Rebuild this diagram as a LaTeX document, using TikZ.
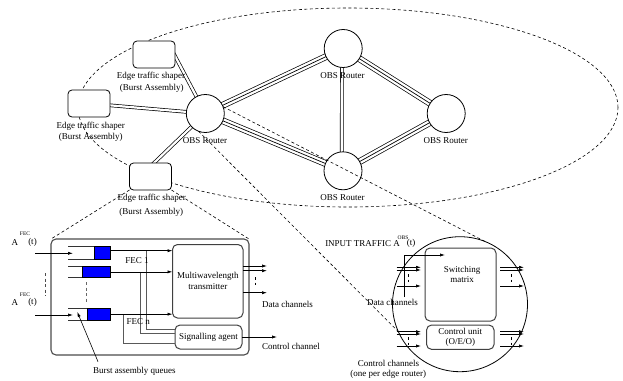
\documentclass[tikz,border=0pt]{standalone}
\usepackage{fontspec}
\setmainfont{Liberation Serif}
\usetikzlibrary{arrows.meta,backgrounds}
\begin{document}
\begin{tikzpicture}[x=1pt,y=-1pt,
  txt/.style={font=\fontsize{9}{10}\selectfont, inner sep=0pt, outer sep=0pt, align=center},
  tiny/.style={font=\fontsize{5.5}{6}\selectfont, inner sep=0pt},
  router/.style={circle, draw, fill=white, minimum size=38pt, inner sep=0pt, outer sep=0pt, line width=.8pt},
  shaper/.style={draw, fill=white, rounded corners=4pt, minimum width=42pt, minimum height=27pt, inner sep=0pt, outer sep=0pt, line width=.8pt},
  dbl/.style={double, double distance=2.2pt, line width=.7pt},
  tri/.style={line width=.7pt, preaction={draw, line width=6.7pt}, preaction={draw, white, line width=5.3pt}},
  dsh/.style={line width=.6pt, dash pattern=on 3pt off 2.5pt},
  unit/.style={draw=black!75, line width=1pt, rounded corners=5pt, inner sep=0pt, outer sep=0pt, fill=white},
  arr/.style={-{Latex[length=5pt,width=3.2pt]}, line width=.7pt},
  route/.style={draw=black!65, line width=.8pt},
  qline/.style={draw=black!80, line width=.8pt},
  blueq/.style={fill=blue, draw=black, line width=.6pt, inner sep=0pt, outer sep=0pt},
]
\useasboundingbox (0,0) rectangle (623,380);

% ---------- network ----------
\node[router] (R1) at (205.3,113.5) {};
\node[router] (R2) at (343.2,48.5) {};
\node[router] (R3) at (446.2,113.5) {};
\node[router] (R4) at (343,170.8) {};
\node[txt] (R1l) at (205,140.7) {OBS Router};
\node[txt] (R2l) at (342.5,76) {OBS Router};
\node[txt] (R3l) at (445.8,140.7) {OBS Router};
\node[txt] (R4l) at (342.5,197.3) {OBS Router};

\node[shaper] (E1) at (154,54.5) {};
\node[shaper] (E2) at (89,103.5) {};
\node[shaper] (E3) at (150.5,176.5) {};
\node[txt] (E1a) at (151,76.7) {Edge traffic shaper};
\node[txt] (E1b) at (151.8,88.3) {(Burst Assembly)};
\node[txt] (E2a) at (90.7,126.7) {Edge traffic shaper};
\node[txt] (E2b) at (90.8,137.2) {(Burst Assembly)};
\node[txt] (E3a) at (151.7,198.3) {Edge traffic shaper};
\node[txt] (E3b) at (151.3,212.3) {(Burst Assembly)};

\begin{scope}[on background layer]
  \draw[dsh] (348,107.5) ellipse [x radius=270pt, y radius=99.5pt];
  \draw[dbl] ([shift={(16,-8)}]E1.center) -- (R1.center);
  \draw[dbl] (E2.center) -- (R1.center);
  \draw[dbl] ([shift={(-10.5,0)}]E3.center) -- (R1.center);
  \draw[tri] (R1.center) -- (R2.center);
  \draw[tri] (R1.center) -- (R4.center);
  \draw[tri] (R2.center) -- (R3.center);
  \draw[tri] (R4.center) -- (R3.center);
  \draw[dbl] ([xshift=-1.3pt]R2.center) -- ([xshift=-1.3pt]R4.center);
\end{scope}

% ---------- edge router detail ----------
\node[draw=black!70, line width=1.1pt, rounded corners=5pt, minimum width=198pt, minimum height=116pt, inner sep=0pt, outer sep=0pt] (LB) at (150,297) {};
\node[unit, minimum width=70.5pt, minimum height=73.5pt, font=\fontsize{9}{11}\selectfont, align=center] (MWT) at (207.75,281.25) {Multiwavelength\\transmitter};
\node[unit, minimum width=67pt, minimum height=24pt, font=\fontsize{9}{10}\selectfont] (SA) at (208.5,337) {Signalling agent};

% queues
\draw[qline] (68,246.7) -- (94.3,246.7) (68,259) -- (94.3,259);
\node[blueq, minimum width=15.7pt, minimum height=12.3pt] (B1) at (102.15,252.85) {};
\draw[qline] (68,266) -- (82.7,266) (68,277.7) -- (82.7,277.7);
\node[blueq, minimum width=27.3pt, minimum height=11.7pt] (B2) at (96.35,271.85) {};
\draw[qline] (68,308.3) -- (87.3,308.3) (68,320) -- (87.3,320);
\node[blueq, minimum width=22.7pt, minimum height=11.7pt] (B3) at (98.65,314.15) {};
\draw[dsh, black!60, line width=1pt] (86.7,282) -- (86.7,303);

% inputs
\coordinate (in1) at (35,253.3);
\coordinate (in2) at (35,315);
\draw[arr] (in1) -- (73,253.3);
\draw[arr] (in2) -- (73,315);
\draw[dsh, black!70, line width=1pt] (45,273) -- (45,296);
\node[txt] (A1) at (15,242.7) {A};
\node[tiny] (A1s) at (25,233.5) {FEC};
\node[txt] (A1t) at (32.5,242.7) {(t)};
\node[txt] (A2) at (15,302.7) {A};
\node[tiny] (A2s) at (25,295) {FEC};
\node[txt] (A2t) at (32.5,302.7) {(t)};

% routes
\draw[route] (146.7,250.7) |- (SA.west |- 0,329.5);
\draw[route] (140,271.85) |- (SA.west |- 0,333);
\draw[route] (123.3,314.15) |- (SA.west |- 0,343.3);
\draw[arr] (110,250.7) -- (MWT.west |- 0,250.7);
\draw[arr] (B2.east) -- (MWT.west |- B2.east);
\draw[arr] (B3.east) -- (MWT.west |- B3.east);
\node[txt] (F1) at (137,261) {FEC 1};
\node[txt] (Fn) at (138.3,321.7) {FEC n};

% outputs
\draw[arr] (MWT.east |- 0,266) -- (267,266);
\draw[arr] (MWT.east |- 0,270.7) -- (267,270.7);
\draw[arr] (MWT.east |- 0,292.7) -- (267,292.7);
\draw[dsh, line width=.8pt] (255,277) -- (255,285);
\draw[arr] (SA.east) -- (277,337);
\node[txt] (DCl) at (287.5,304) {Data channels};
\node[txt] (CCl) at (291,346) {Control channel};

\node[txt] (BAQ) at (134.3,371) {Burst assembly queues};
\draw[-{Latex[length=5pt,width=3.2pt]}, line width=.6pt] (98,361.7) -- (77.3,312);

% ---------- core router detail ----------
\node[circle, draw, line width=.8pt, minimum size=135pt, inner sep=0pt, outer sep=0pt] (BC) at (460,304.2) {};
\node[unit, minimum width=71pt, minimum height=73pt] (SM) at (460.5,284.5) {};
\node[txt, font=\fontsize{9}{9.5}\selectfont] (SMt) at (462,274.5) {Switching\\matrix};
\node[unit, minimum width=67.5pt, minimum height=24.3pt, font=\fontsize{9}{10}\selectfont, align=center] (CU) at (460.3,337.2) {Control unit\\(O/E/O)};

\foreach \yy in {267.3,270,286,331.7,334,346} {
  \draw[arr] (396.7,\yy) -- (421,\yy);
  \draw[arr] (500,\yy) -- (524,\yy);
}
\draw[dsh, line width=.8pt] (408.5,274) -- (408.5,282);
\draw[dsh, line width=.8pt] (408.5,337) -- (408.5,345);
\draw[dsh, line width=.8pt] (511.7,274) -- (511.7,282);
\draw[dsh, line width=.8pt] (511.7,337) -- (511.7,345);

\draw[arr] (404,297) |- (445,255);
\node[txt] (IT) at (362.5,243.3) {INPUT TRAFFIC A};
\node[tiny] (ITs) at (403,237.7) {OBS};
\node[txt] (ITt) at (411,243.3) {(t)};
\node[txt] (DCr) at (392.5,302.3) {Data channels};
\node[txt] (CCr) at (388.5,363.3) {Control channels};
\node[txt] (CCr2) at (388.3,374) {(one per edge router)};

% ---------- zoom lines ----------
\draw[dsh] (R1.21) -- (BC.68);
\draw[dsh] (R1.-111) -- (BC.204);
\draw[dsh] (E3.south west) -- (LB.north west);
\draw[dsh] (E3.south east) -- (LB.north east);
\end{tikzpicture}
\end{document}
